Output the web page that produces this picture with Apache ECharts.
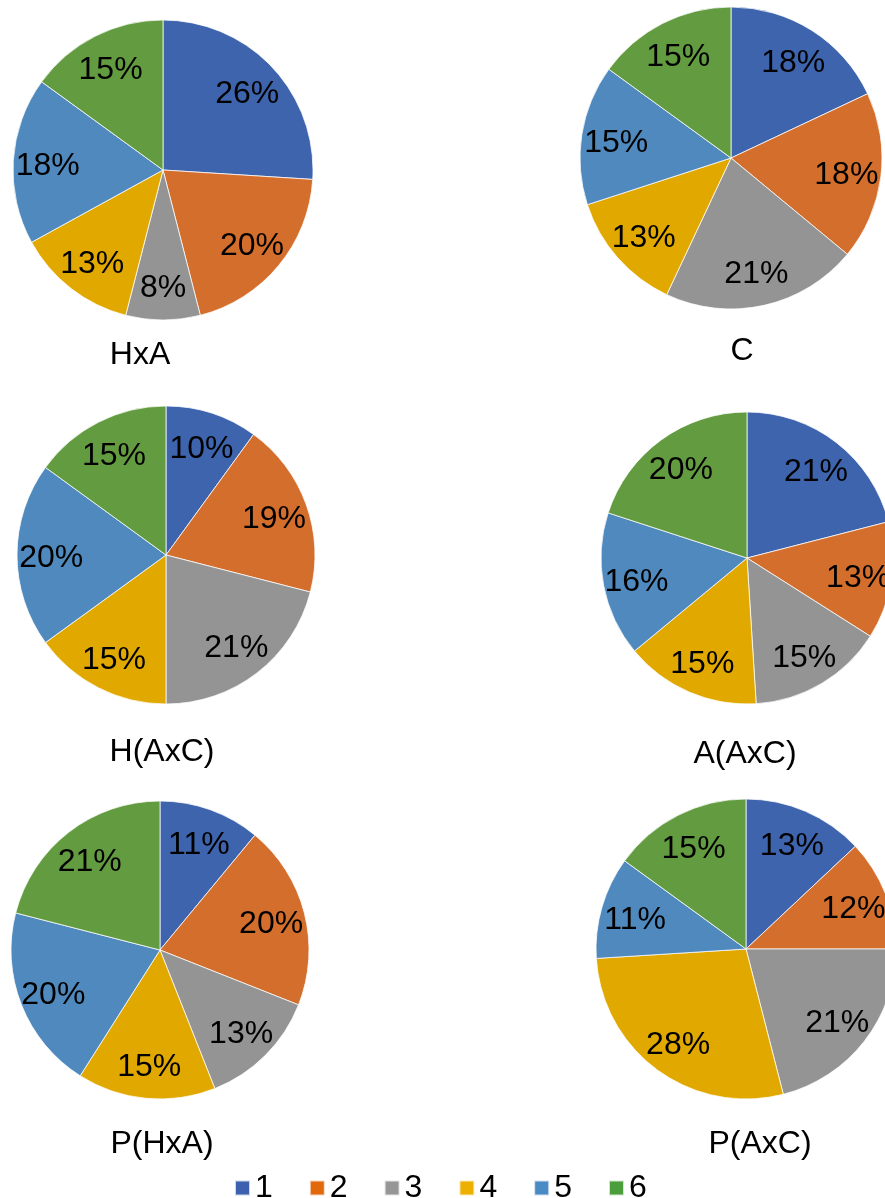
<!DOCTYPE html>
<html>
<head>
<meta charset="utf-8">
<script src="https://cdn.jsdelivr.net/npm/echarts@6/dist/echarts.min.js"></script>
<style>
  html, body { margin: 0; padding: 0; background: #fff; }
  #chart { width: 885px; height: 1198px; }
</style>
</head>
<body>
<div id="chart"></div>
<script>
// Slice categories (legend entries)
const sliceNames = ['1', '2', '3', '4', '5', '6'];

// Percent share of each category, one array per pie
const valuesHxA  = [26, 20, 8, 13, 18, 15];
const valuesC    = [18, 18, 21, 13, 15, 15];
const valuesHAxC = [10, 19, 21, 15, 20, 15];
const valuesAAxC = [21, 13, 15, 15, 16, 20];
const valuesPHxA = [11, 20, 13, 15, 20, 21];
const valuesPAxC = [13, 12, 21, 28, 11, 15];

// Caption under each pie
const pieTitles = ['HxA', 'C', 'H(AxC)', 'A(AxC)', 'P(HxA)', 'P(AxC)'];

// Styling
const FONT = '"Liberation Sans", Arial, Helvetica, sans-serif';
const sliceColors  = ['#3D64AD', '#D46E2C', '#949494', '#E1A900', '#4F89BD', '#639B40'];
const legendColors = ['#3D60AF', '#E2690B', '#969696', '#EDB000', '#4A8AC5', '#4C9E3C'];

// Layout of the 2 x 3 grid of pies
const pies = [
  { values: valuesHxA,  center: [163, 170], radius: 150, title: [140, 355] },
  { values: valuesC,    center: [731, 158], radius: 151, title: [742, 351] },
  { values: valuesHAxC, center: [166, 555], radius: 149, title: [162, 752] },
  { values: valuesAAxC, center: [747, 558], radius: 146, title: [745, 754] },
  { values: valuesPHxA, center: [160, 950], radius: 149, title: [162, 1144] },
  { values: valuesPAxC, center: [746, 949], radius: 150, title: [760, 1144] }
];

const toData = vals => vals.map((v, i) => ({ name: sliceNames[i], value: v }));

const series = [];
const titles = [];

pies.forEach((p, k) => {
  // coloured slices
  series.push({
    type: 'pie',
    name: pieTitles[k],
    center: p.center,
    radius: p.radius,
    startAngle: 90,
    clockwise: true,
    silent: true,
    animation: false,
    color: sliceColors,
    itemStyle: { borderColor: 'rgba(255,255,255,0.75)', borderWidth: 1 },
    label: { show: false },
    labelLine: { show: false },
    emphasis: { disabled: true },
    data: toData(p.values)
  });
  // percentage labels, placed on a transparent ring so they sit toward the rim
  series.push({
    type: 'pie',
    name: pieTitles[k] + ' labels',
    center: p.center,
    radius: [p.radius * 0.5, p.radius],
    startAngle: 90,
    clockwise: true,
    silent: true,
    animation: false,
    itemStyle: { color: 'rgba(0,0,0,0)', borderWidth: 0 },
    label: {
      show: true,
      position: 'inside',
      formatter: '{c}%',
      color: '#000',
      fontSize: 32,
      fontFamily: FONT,
      offset: [0, 3]
    },
    labelLine: { show: false },
    emphasis: { disabled: true },
    data: toData(p.values)
  });
  titles.push({
    text: pieTitles[k],
    left: p.title[0],
    top: p.title[1],
    textAlign: 'center',
    textVerticalAlign: 'middle',
    padding: 0,
    textStyle: { fontSize: 32, fontWeight: 'normal', color: '#000', fontFamily: FONT }
  });
});

const chart = echarts.init(document.getElementById('chart'), null, { renderer: 'canvas' });
chart.setOption({
  backgroundColor: '#fff',
  animation: false,
  title: titles,
  legend: {
    orient: 'horizontal',
    left: 234,
    top: 1172,
    padding: 0,
    itemWidth: 15,
    itemHeight: 15,
    itemGap: 36,
    icon: 'rect',
    selectedMode: false,
    textStyle: { fontSize: 32, color: '#000', fontFamily: FONT },
    data: sliceNames.map((n, i) => ({ name: n, itemStyle: { color: legendColors[i] } }))
  },
  series: series
});
</script>
</body>
</html>
